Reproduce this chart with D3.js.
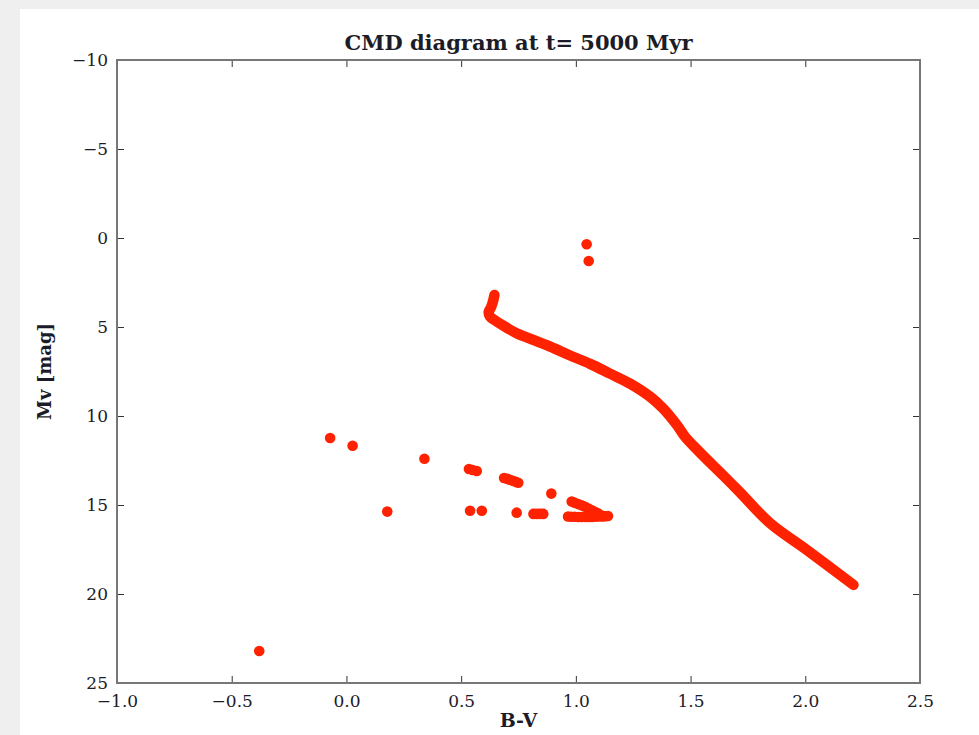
<!DOCTYPE html>
<html>
<head>
<meta charset="utf-8">
<script src="https://cdnjs.cloudflare.com/ajax/libs/d3/7.8.5/d3.min.js"></script>
<style>
  body { margin: 0; background: #efefef; }
  svg { display: block; }
  .tick text { font-family: "DejaVu Serif", serif; font-size: 17px; fill: #1c1c28; }
  .tick line { stroke: #333; stroke-width: 1; }
</style>
</head>
<body>
<div id="chart"></div>
<script>

// isochrone main sequence
var msBV = [0.645, 0.64, 0.63, 0.62, 0.625, 0.65, 0.70, 0.75, 0.80, 0.888, 0.975, 1.062, 1.149, 1.236, 1.324, 1.382, 1.44, 1.475, 1.541, 1.643, 1.716, 1.847, 2.007, 2.21]
var msMv = [3.2, 3.5, 3.9, 4.15, 4.4, 4.65, 5.05, 5.4, 5.65, 6.1, 6.6, 7.07, 7.62, 8.18, 8.92, 9.6, 10.5, 11.15, 12.05, 13.35, 14.3, 16.03, 17.53, 19.49]

// single stars: giants, white dwarfs, odd ones
var starBV = [-0.38, -0.071, 0.027, 0.34, 0.178,
  0.534, 0.55, 0.568, 0.539, 0.59,
  0.687, 0.70, 0.712, 0.725, 0.737, 0.749, 0.742,
  0.815, 0.83, 0.845, 0.858, 0.893,
  1.047, 1.056,
  0.982, 0.995, 1.01, 1.025, 1.04, 1.055, 1.07, 1.085, 1.1, 1.119,
  0.966, 0.98, 0.995, 1.01, 1.025, 1.04, 1.055, 1.07, 1.085, 1.1, 1.115, 1.128, 1.14]
var starMv = [23.2, 11.24, 11.67, 12.4, 15.37,
  12.98, 13.03, 13.09, 15.32, 15.32,
  13.48, 13.53, 13.58, 13.64, 13.7, 13.75, 15.43,
  15.5, 15.5, 15.5, 15.5, 14.36,
  0.35, 1.29,
  14.81, 14.88, 14.95, 15.02, 15.1, 15.2, 15.3, 15.4, 15.5, 15.62,
  15.65, 15.66, 15.66, 15.67, 15.67, 15.67, 15.67, 15.67, 15.66, 15.65, 15.64, 15.63, 15.62]

var xTicks = [-1.0, -0.5, 0.0, 0.5, 1.0, 1.5, 2.0, 2.5]
var yTicks = [-10, -5, 0, 5, 10, 15, 20, 25]

var W = 979, H = 735
var margin = { top: 60, left: 117, right: 59, bottom: 52 },
   width = W - margin.left - margin.right,
   height = H - margin.top - margin.bottom

var red = "#ff2200"
var ink = "#1c1c28"

var root = d3.select("#chart")
  .append("svg")
  .attr("width", W)
  .attr("height", H)

root.append("rect").attr("width", W).attr("height", H).attr("fill", "#efefef")
root.append("rect").attr("x", 20).attr("y", 9).attr("width", W - 20).attr("height", H - 9).attr("fill", "#fff")

var svg = root.append("g")
  .attr("transform", "translate(" + margin.left + "," + margin.top + ")")

var x = d3.scaleLinear().domain([-1, 2.5]).range([0, width])
var y = d3.scaleLinear().domain([-10, 25]).range([0, height])

var clip = svg.append("clipPath").attr("id", "clip")
clip.append("rect").attr("width", width).attr("height", height)

var plot = svg.append("g").attr("clip-path", "url(#clip)")

var line = d3.line()
  .x(function(d) { return x(d[0]) })
  .y(function(d) { return y(d[1]) })
  .curve(d3.curveCatmullRom)

plot.append("path")
  .datum(d3.zip(msBV, msMv))
  .attr("d", line)
  .attr("fill", "none")
  .attr("stroke", red)
  .attr("stroke-width", 10.5)
  .attr("stroke-linecap", "round")
  .attr("stroke-linejoin", "round")

plot.selectAll(".star")
  .data(d3.zip(starBV, starMv))
  .enter().append("circle")
  .attr("class", "star")
  .attr("cx", function(d) { return x(d[0]) })
  .attr("cy", function(d) { return y(d[1]) })
  .attr("r", 5.3)
  .attr("fill", red)

// axes, ticks pointing inward on all four sides
svg.append("g")
  .attr("transform", "translate(0," + height + ")")
  .call(d3.axisBottom(x).tickValues(xTicks).tickFormat(d3.format(".1f")).tickSizeInner(-7).tickSizeOuter(0).tickPadding(12))
svg.append("g")
  .call(d3.axisTop(x).tickValues(xTicks).tickFormat("").tickSizeInner(-7).tickSizeOuter(0))
svg.append("g")
  .call(d3.axisLeft(y).tickValues(yTicks).tickFormat(d3.format("d")).tickSizeInner(-7).tickSizeOuter(0).tickPadding(9))
svg.append("g")
  .attr("transform", "translate(" + width + ",0)")
  .call(d3.axisRight(y).tickValues(yTicks).tickFormat("").tickSizeInner(-7).tickSizeOuter(0))

svg.selectAll(".domain").remove()

svg.append("rect")
  .attr("width", width)
  .attr("height", height)
  .attr("fill", "none")
  .attr("stroke", "#777")
  .attr("stroke-width", 2)

svg.append("text")
  .attr("x", width / 2)
  .attr("y", -10)
  .attr("text-anchor", "middle")
  .style("font-family", "DejaVu Serif, serif")
  .style("font-size", "21px")
  .style("font-weight", "bold")
  .style("fill", ink)
  .text("CMD diagram at t= 5000 Myr")

svg.append("text")
  .attr("x", width / 2)
  .attr("y", height + 44)
  .attr("text-anchor", "middle")
  .style("font-family", "DejaVu Serif, serif")
  .style("font-size", "19px")
  .style("font-weight", "bold")
  .style("fill", ink)
  .text("B-V")

svg.append("text")
  .attr("transform", "translate(-66," + (height / 2) + ") rotate(-90)")
  .attr("text-anchor", "middle")
  .style("font-family", "DejaVu Serif, serif")
  .style("font-size", "18px")
  .style("font-weight", "bold")
  .style("fill", ink)
  .text("Mv [mag]")

</script>
</body>
</html>
